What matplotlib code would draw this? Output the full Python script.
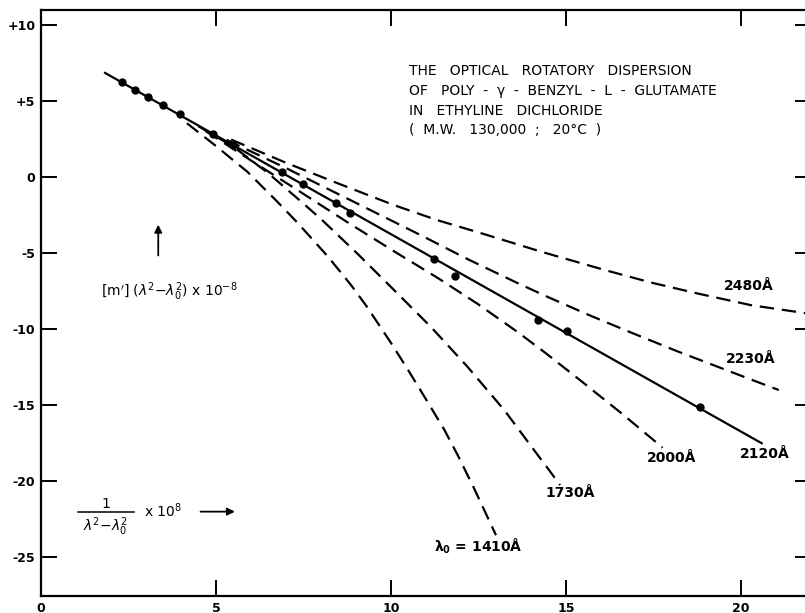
import matplotlib
matplotlib.use("Agg")
import matplotlib.pyplot as plt

# measured points (solid line, lambda0 = 2120 A)
pts_x = [2.31, 2.69, 3.05, 3.49, 3.98, 4.90, 5.49, 6.89, 7.49, 8.43, 8.84, 11.22, 11.83, 14.20, 15.02, 18.83]
pts_y = [6.27, 5.72, 5.28, 4.74, 4.17, 2.83, 2.10, 0.35, -0.46, -1.69, -2.35, -5.37, -6.49, -9.40, -10.13, -15.10]
line2120_x = [1.83, 20.59]
line2120_y = [6.86, -17.50]

# dashed curves for the other lambda0 values
c1410_x = [4.17, 5.00, 5.90, 6.76, 7.33, 8.19, 8.86, 9.29, 10.00, 10.48, 11.05, 11.52, 11.91, 12.38, 13.00]
c1410_y = [3.55, 2.05, 0.35, -1.63, -3.00, -5.20, -7.10, -8.45, -10.90, -12.65, -14.80, -16.60, -18.30, -20.50, -23.55]
c1730_x = [4.50, 5.50, 6.50, 7.43, 8.00, 9.05, 10.09, 11.14, 12.19, 13.24, 14.09, 14.52, 14.83]
c1730_y = [3.35, 2.00, 0.25, -1.60, -2.75, -5.05, -7.43, -9.85, -12.48, -15.33, -17.96, -19.28, -20.25]
c2000_x = [4.70, 6.00, 7.50, 8.80, 10.19, 11.33, 12.48, 13.62, 14.43, 15.50, 16.60, 17.76]
c2000_y = [3.04, 1.10, -1.10, -3.03, -5.02, -6.62, -8.34, -10.19, -11.59, -13.53, -15.56, -17.79]
c2230_x = [5.30, 7.00, 9.00, 10.95, 12.19, 13.62, 14.48, 15.71, 16.86, 18.19, 20.48, 21.08]
c2230_y = [2.46, 0.60, -1.69, -3.93, -5.39, -6.97, -7.88, -9.12, -10.22, -11.46, -13.48, -14.00]
c2480_x = [5.43, 7.00, 8.50, 10.09, 11.33, 12.67, 14.29, 16.10, 17.43, 18.76, 20.29, 21.86]
c2480_y = [2.48, 0.95, -0.42, -1.84, -2.83, -3.75, -4.90, -6.10, -6.93, -7.65, -8.42, -8.95]

xticks = [0, 5, 10, 15, 20]
xtick_labels = ["0", "5", "10", "15", "20"]
yticks = [10, 5, 0, -5, -10, -15, -20, -25]
ytick_labels = ["+10", "+5", "0", "-5", "-10", "-15", "-20", "-25"]

title_lines = ["THE   OPTICAL   ROTATORY   DISPERSION",
               "OF   POLY  -  \u03b3  -  BENZYL  -  L  -  GLUTAMATE",
               "IN   ETHYLINE   DICHLORIDE",
               "(  M.W.   130,000  ;   20\u00b0C  )"]
title_y = [6.97, 5.66, 4.34, 3.09]

fig = plt.figure(figsize=(8.05, 6.13), dpi=100)
ax = fig.add_axes([41 / 805, 17 / 613, 770 / 805, 586 / 613])

k = "black"
dash = dict(color=k, lw=1.6, linestyle=(0, (6.5, 3.5)))
ax.plot(c1410_x, c1410_y, **dash)
ax.plot(c1730_x, c1730_y, **dash)
ax.plot(c2000_x, c2000_y, **dash)
ax.plot(c2230_x, c2230_y, **dash)
ax.plot(c2480_x, c2480_y, **dash)
ax.plot(line2120_x, line2120_y, color=k, lw=1.6)
ax.plot(pts_x, pts_y, "o", color=k, ms=5)

ax.set_xlim(0, 22)
ax.set_ylim(-27.55, 11.0)
ax.set_xticks(xticks)
ax.set_xticklabels(xtick_labels)
ax.set_yticks(yticks)
ax.set_yticklabels(ytick_labels)
ax.tick_params(direction="in", length=11.5, width=1.4, top=True, right=True,
               labelsize=9, pad=4)
for lab in ax.get_xticklabels() + ax.get_yticklabels():
    lab.set_fontweight("bold")
for s in ax.spines.values():
    s.set_linewidth(1.6)

for t, y in zip(title_lines, title_y):
    ax.text(10.51, y, t, fontsize=10, va="center", ha="left")

# curve labels
fs = 10
ax.text(20.23, -7.17, "2480Å", fontsize=fs, fontweight="bold", ha="center", va="center")
ax.text(20.29, -11.93, "2230Å", fontsize=fs, fontweight="bold", ha="center", va="center")
ax.text(18.03, -18.5, "2000Å", fontsize=fs, fontweight="bold", ha="center", va="center")
ax.text(20.68, -18.22, "2120Å", fontsize=fs, fontweight="bold", ha="center", va="center")
ax.text(15.11, -20.8, "1730Å", fontsize=fs, fontweight="bold", ha="center", va="center")
ax.text(12.5, -24.3, r"$\mathbf{\lambda_0}$ = 1410Å", fontsize=fs, fontweight="bold",
        ha="center", va="center")

# axis labels drawn inside the plot
ax.annotate("", xy=(3.35, -2.94), xytext=(3.35, -5.33),
            arrowprops=dict(arrowstyle="-|>", color=k, lw=1.3, mutation_scale=11))
ax.text(1.71, -7.55, r"[m$'$] ($\lambda^2$$-$$\lambda_0^2$) x 10$^{-8}$", fontsize=10,
        ha="left", va="center")
ax.text(1.85, -21.5, "1", fontsize=10, ha="center", va="center")
ax.plot([1.07, 2.65], [-22.02, -22.02], color=k, lw=1.1)
ax.text(1.85, -23.0, r"$\lambda^2$$-$$\lambda_0^2$", fontsize=10, ha="center", va="center")
ax.text(2.94, -21.95, r"x 10$^{8}$", fontsize=10, ha="left", va="center")
ax.annotate("", xy=(5.62, -22.0), xytext=(4.48, -22.0),
            arrowprops=dict(arrowstyle="-|>", color=k, lw=1.3, mutation_scale=11))

fig.savefig("out.png", dpi=100)
